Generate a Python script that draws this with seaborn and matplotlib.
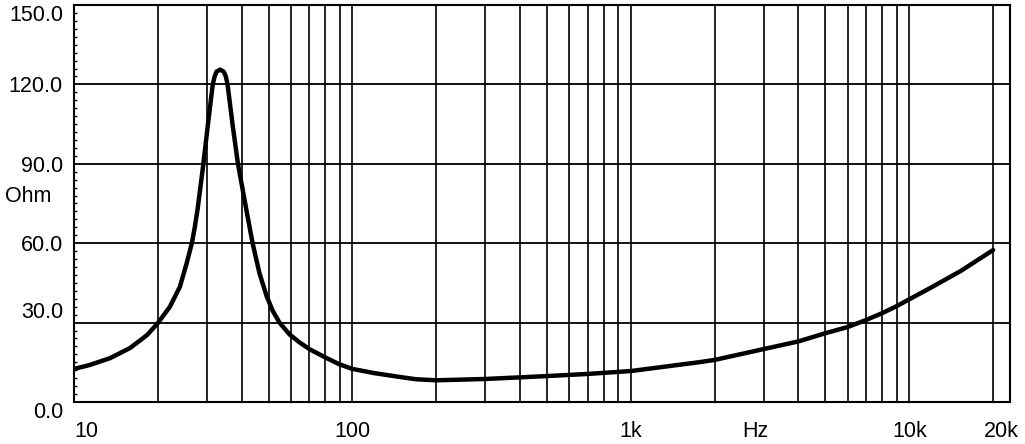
import matplotlib
matplotlib.use("Agg")
import matplotlib.pyplot as plt
import matplotlib.transforms as mtransforms
from matplotlib.ticker import MultipleLocator, NullLocator, FixedLocator
import seaborn as sns

# impedance curve (Hz, Ohm)
freq = [10, 11.4, 13.5, 15.9, 18.3, 20, 22.1, 24, 25.4, 26.5, 27.1, 27.8, 29, 30.2,
        31.5, 32.0, 32.5, 33.5, 34.5, 35.1, 35.6, 37.2, 38.8, 41.7, 43.8, 46.4, 49.2,
        51.7, 54.7, 59.5, 64.6, 70, 80, 90, 100, 120, 147, 169, 200, 300, 500, 700,
        1000, 1750, 2000, 3000, 4000, 5000, 6000, 7000, 8000, 9000, 10000, 12000,
        15300, 20000]
ohm = [12.5, 14, 16.6, 20.4, 25.3, 29.8, 36, 43.5, 52.5, 60, 65.5, 73, 88, 104,
       120, 123, 124.8, 125.6, 124.8, 123, 120, 104, 90, 72, 60, 48.5, 40,
       34.5, 30, 25.5, 22.5, 20, 16.8, 14.2, 12.5, 10.9, 9.5, 8.6, 8.2, 8.7, 9.8, 10.6,
       11.7, 15, 15.9, 20, 22.9, 26, 28.3, 31, 33.6, 36.2, 38.8, 43.3,
       49.5, 57.4]

x_ticks = [10, 100, 1000, 2800, 10000, 20000]
x_labels = ['10', '100', '1k', 'Hz', '10k', '20k']
y_ticks = [0, 30, 60, 90, 120, 150]
y_labels = ['0.0', '30.0', '60.0', '90.0', '120.0', '150.0']

sns.set_style('white')
plt.rcParams['font.family'] = ['Liberation Sans', 'DejaVu Sans']

fig = plt.figure(figsize=(10.25, 4.44), dpi=100)
ax = fig.add_axes([74/1025, 1-402/444, (1010-74)/1025, (402-5)/444])

# grid lines
vlines = []
for dec in [10, 100, 1000]:
    for m in range(2, 10):
        vlines.append(m*dec)
    vlines.append(10*dec)
vlines.append(20000)
for v in vlines:
    ax.axvline(v, color='black', lw=1.2, zorder=1)
for h in [30, 60, 90, 120]:
    ax.axhline(h, color='black', lw=1.3, zorder=1)

sns.lineplot(x=freq, y=ohm, ax=ax, color='black', lw=3.2, zorder=3,
             solid_joinstyle='round', solid_capstyle='round')

ax.set_xscale('log')
ax.set_xlim(10, 23000)
ax.set_ylim(0, 150)
ax.xaxis.set_major_locator(FixedLocator(x_ticks))
ax.set_xticklabels(x_labels)
ax.xaxis.set_minor_locator(NullLocator())
ax.set_yticks(y_ticks)
ax.set_yticklabels(y_labels)
ax.yaxis.set_minor_locator(MultipleLocator(3))
ax.tick_params(axis='both', which='major', length=0, labelsize=15.5, colors='black')
ax.tick_params(axis='x', pad=14)
ax.tick_params(axis='y', pad=8)
ax.tick_params(axis='y', which='minor', left=True, direction='in', length=2.5, width=1, color='black')

for s in ax.spines.values():
    s.set_color('black')
    s.set_linewidth(1.5)

# label nudges as in the original
ylabs = ax.get_yticklabels()
ylabs[0].set_va('top')
ylabs[1].set_va('bottom')
ylabs[5].set_va('top')
xlabs = ax.get_xticklabels()
xlabs[0].set_ha('left')
off = mtransforms.ScaledTranslation(8/100, 0, fig.dpi_scale_trans)
xlabs[5].set_transform(xlabs[5].get_transform() + off)

ax.set_xlabel('')
ax.set_ylabel('')
fig.text(5/1025, 1-196/444, 'Ohm', ha='left', va='center', fontsize=15.5, color='black')

fig.savefig('out.png', dpi=100, facecolor='white')
